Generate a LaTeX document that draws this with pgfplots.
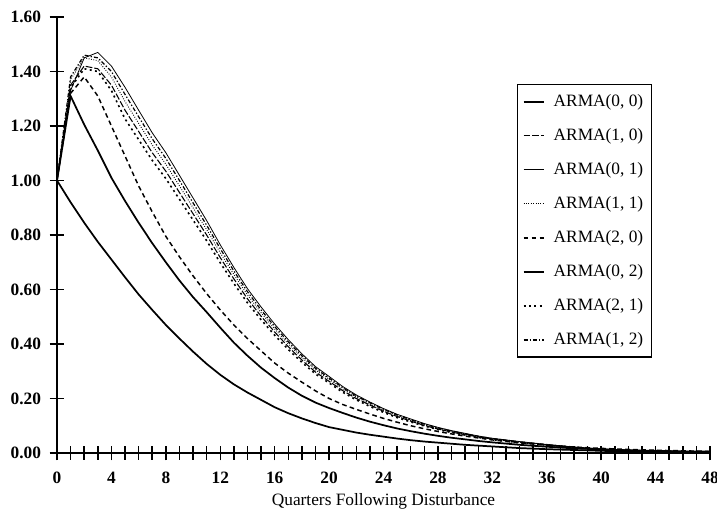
\documentclass[border=0pt]{standalone}
\usepackage{fontspec}
\setmainfont{Liberation Serif}
\usepackage{pgfplots}
\pgfplotsset{compat=1.18}
\usepackage{pgfplotstable}

\pgfplotstableread{
t a00 a10 a01 a11 a20 a02 a21 a12
0 1.00 1.00 1.00 1.00 1.00 1.00 1.00 1.00
1 0.92 1.35 1.33 1.37 1.32 1.31 1.34 1.38
2 0.845 1.42 1.45 1.45 1.38 1.205 1.41 1.46
3 0.775 1.41 1.47 1.44 1.31 1.11 1.40 1.45
4 0.71 1.35 1.42 1.38 1.20 1.01 1.33 1.40
5 0.645 1.258 1.342 1.29 1.09 0.925 1.226 1.316
6 0.582 1.18 1.258 1.21 0.98 0.845 1.15 1.234
7 0.525 1.102 1.175 1.13 0.885 0.77 1.074 1.153
8 0.47 1.034 1.102 1.06 0.795 0.70 1.007 1.081
9 0.42 0.956 1.019 0.98 0.72 0.633 0.931 1.0
10 0.372 0.878 0.936 0.90 0.65 0.572 0.855 0.918
11 0.327 0.80 0.853 0.82 0.585 0.517 0.779 0.836
12 0.287 0.717 0.764 0.735 0.525 0.46 0.698 0.75
13 0.252 0.639 0.681 0.655 0.47 0.405 0.622 0.668
14 0.222 0.566 0.603 0.58 0.42 0.357 0.551 0.592
15 0.195 0.502 0.536 0.515 0.375 0.313 0.489 0.525
16 0.168 0.444 0.473 0.455 0.33 0.275 0.432 0.464
17 0.146 0.39 0.416 0.40 0.293 0.24 0.38 0.408
18 0.127 0.341 0.364 0.35 0.26 0.21 0.333 0.357
19 0.11 0.297 0.317 0.305 0.228 0.185 0.29 0.311
20 0.095 0.263 0.281 0.27 0.2 0.165 0.257 0.275
21 0.085 0.229 0.244 0.235 0.178 0.147 0.223 0.24
22 0.075 0.2 0.213 0.205 0.16 0.13 0.195 0.209
23 0.067 0.176 0.187 0.18 0.143 0.115 0.171 0.184
24 0.06 0.153 0.163 0.157 0.127 0.102 0.149 0.16
25 0.053 0.134 0.142 0.137 0.113 0.09 0.13 0.14
26 0.047 0.117 0.125 0.12 0.1 0.08 0.114 0.122
27 0.042 0.101 0.108 0.104 0.089 0.071 0.099 0.106
28 0.038 0.088 0.094 0.09 0.079 0.063 0.086 0.092
29 0.034 0.077 0.082 0.079 0.07 0.056 0.075 0.081
30 0.03 0.067 0.072 0.069 0.062 0.05 0.066 0.07
31 0.027 0.059 0.062 0.06 0.055 0.044 0.057 0.061
32 0.024 0.051 0.054 0.052 0.048 0.039 0.049 0.053
34 0.018 0.039 0.042 0.04 0.037 0.03 0.038 0.041
36 0.014 0.029 0.031 0.03 0.029 0.023 0.029 0.031
38 0.011 0.02 0.022 0.021 0.022 0.017 0.02 0.021
40 0.008 0.014 0.015 0.014 0.017 0.013 0.013 0.014
42 0.006 0.01 0.01 0.01 0.013 0.01 0.01 0.01
44 0.005 0.007 0.007 0.007 0.01 0.008 0.007 0.007
46 0.004 0.005 0.005 0.005 0.008 0.006 0.005 0.005
48 0.003 0.003 0.003 0.003 0.006 0.005 0.003 0.003
}\data

\begin{document}
\begin{tikzpicture}
\begin{axis}[
  name=ax,
  scale only axis,
  width=489.75pt, height=327pt,
  xmin=0, xmax=48, ymin=0, ymax=1.6,
  enlargelimits=false,
  axis x line=bottom, axis y line=left,
  axis line style={-, line width=1.2pt},
  xtick={0,4,...,48},
  minor x tick num=3,
  ytick={0,0.2,...,1.6},
  tick align=center,
  major tick length=11pt, minor tick length=10pt,
  every tick/.style={line width=1.1pt, black},
  tick label style={font=\bfseries\fontsize{13}{14}\selectfont},
  /pgf/number format/assume math mode=true,
  yticklabel style={/pgf/number format/fixed, /pgf/number format/fixed zerofill, /pgf/number format/precision=2, xshift=-3pt},
  xticklabel style={yshift=-5pt},
  xlabel={Quarters Following Disturbance},
  xlabel style={font=\fontsize{13}{15}\selectfont, yshift=-1pt},
  legend style={at={(0.704,0.846)}, anchor=north west, draw=black, line width=0.9pt,
     font=\fontsize{13}{14}\selectfont, row sep=11pt, inner xsep=4pt, inner ysep=5.5pt,
     /tikz/every odd column/.append style={column sep=5pt}},
  legend cell align=left,
  legend image code/.code={\draw[#1] (0pt,0pt) -- (15pt,0pt);},
  every axis plot/.append style={black},
]
\addplot[line width=1.3pt] table[x=t,y=a00]{\data};
\addlegendentry{ARMA(0, 0)\hspace{6pt}}
\addplot[line width=0.8pt, dash pattern=on 5pt off 1.5pt] table[x=t,y=a10]{\data};
\addlegendentry{ARMA(1, 0)\hspace{6pt}}
\addplot[line width=0.6pt] table[x=t,y=a01]{\data};
\addlegendentry{ARMA(0, 1)\hspace{6pt}}
\addplot[line width=0.7pt, dash pattern=on 0.6pt off 1.2pt] table[x=t,y=a11]{\data};
\addlegendentry{ARMA(1, 1)\hspace{6pt}}
\addplot[line width=1.1pt, dash pattern=on 3.5pt off 2.5pt] table[x=t,y=a20]{\data};
\addlegendentry{ARMA(2, 0)\hspace{6pt}}
\addplot[line width=1.3pt] table[x=t,y=a02]{\data};
\addlegendentry{ARMA(0, 2)\hspace{6pt}}
\addplot[line width=1.2pt, dash pattern=on 1.5pt off 2.5pt] table[x=t,y=a21]{\data};
\addlegendentry{ARMA(2, 1)\hspace{6pt}}
\addplot[line width=0.9pt, dash pattern=on 3pt off 1.5pt on 1pt off 1.5pt] table[x=t,y=a12]{\data};
\addlegendentry{ARMA(1, 2)\hspace{6pt}}
\end{axis}
\pgfresetboundingbox
\path ([shift={(-42.75pt,-42pt)}]ax.south west) rectangle ([shift={(5.25pt,12.75pt)}]ax.north east);
\end{tikzpicture}
\end{document}
